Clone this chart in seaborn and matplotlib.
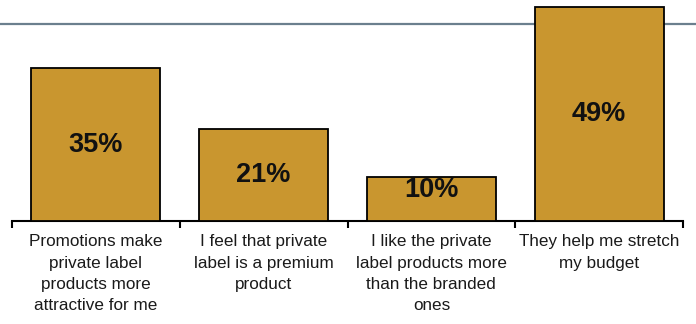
import matplotlib
matplotlib.use("Agg")
import matplotlib.pyplot as plt
from matplotlib.lines import Line2D
import seaborn as sns
import pandas as pd

categories = [
    "Promotions make\nprivate label\nproducts more\nattractive for me",
    "I feel that private\nlabel is a premium\nproduct",
    "I like the private\nlabel products more\nthan the branded\nones",
    "They help me stretch\nmy budget",
]
values = [35, 21, 10, 49]
value_labels = ["35%", "21%", "10%", "49%"]

sns.set_style("white")
plt.rcParams['font.family'] = ['Liberation Sans', 'DejaVu Sans']

df = pd.DataFrame({"cat": categories, "val": values})

fig = plt.figure(figsize=(6.96, 3.24), dpi=100)
ax = fig.add_axes([12/696, 103/324, 671/696, 221/324])
ax.patch.set_alpha(0)

sns.barplot(data=df, x="cat", y="val", order=categories, color="#C9962F",
            saturation=1, width=0.77, edgecolor="black", linewidth=1.3, ax=ax, zorder=3)

ymax = 221/4.37
ax.set_ylim(0, ymax)
ax.set_xlim(-0.5, 3.5)

# decorative top rule across full width
fig.add_artist(Line2D([0, 1], [1 - 24/324, 1 - 24/324], transform=fig.transFigure,
                      color="#6b7f8e", lw=1.6, zorder=-1))

for i, (v, lab) in enumerate(zip(values, value_labels)):
    y = v/2 if v > 15 else v - 2.9
    ax.text(i, y, lab, ha="center", va="center", fontsize=19.5, fontweight="bold",
            color="#111111", zorder=4)

for s in ["top", "left", "right"]:
    ax.spines[s].set_visible(False)
ax.spines["bottom"].set_linewidth(1.5)
ax.spines["bottom"].set_color("black")
ax.set_yticks([])
ax.set_xlabel("")
ax.set_ylabel("")
ax.set_xticks(range(4))
ax.set_xticklabels(categories, fontsize=12.3, color="#1a1a1a", linespacing=1.53)
ax.tick_params(axis="x", which="major", length=0, pad=9.5)
ax.set_xticks([-0.5, 0.5, 1.5, 2.5, 3.5], minor=True)
ax.tick_params(axis="x", which="minor", length=5, width=1.5, color="black", direction="out", bottom=True)

fig.savefig("out.png", dpi=100)
